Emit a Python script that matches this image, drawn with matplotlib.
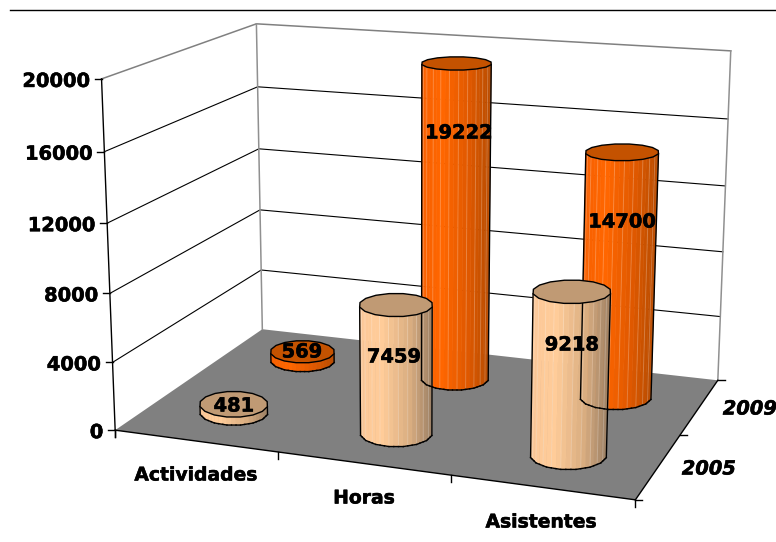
import numpy as np
import matplotlib
matplotlib.use('Agg')
import matplotlib.pyplot as plt
import matplotlib.patheffects as pe
from matplotlib.colors import to_rgb

categories = ['Actividades', 'Horas', 'Asistentes']
series_names = ['2005', '2009']
values_2005 = [481, 7459, 9218]
values_2009 = [569, 19222, 14700]
z_ticks = [0, 4000, 8000, 12000, 16000, 20000]

# where Excel left the value labels / axis labels (pixels)
pos_2005 = [(234, 406), (394, 357), (572, 345)]
pos_2009 = [(302, 352), (459, 133), (622, 222)]
cat_pos = [(196, 475), (364, 498), (541, 522)]
series_pos = [(709, 469), (750, 409)]

ZMAX = 20000.0

# Perspective camera fitted on the box corners
world = [(0, 0, 0), (0, 0, 1), (0, 2, 0), (0, 2, 1), (3, 2, 0), (3, 2, 1), (3, 0, 0),
         (0, 0, 0.8), (0, 2, 0.8), (3, 2, 0.8), (0, 0, 0.2)]
pixel = [(115, 430), (102, 78), (263, 329), (256, 24), (718, 380), (731, 51), (635, 500),
         (105, 152), (257, 87), (728, 119), (112, 363)]
A, b = [], []
for (x, y, z), (u, v) in zip(world, pixel):
    A.append([x, y, z, 1, 0, 0, 0, 0, -u * x, -u * y, -u * z])
    A.append([0, 0, 0, 0, x, y, z, 1, -v * x, -v * y, -v * z])
    b += [u, v]
cam = np.linalg.lstsq(np.array(A, float), np.array(b, float), rcond=None)[0]
cam = np.append(cam, 1.0).reshape(3, 4)

bold = dict(fontweight='bold', path_effects=[pe.withStroke(linewidth=0.4, foreground='black')])


def project(x, y, z):
    x, y, z = np.broadcast_arrays(x, y, np.asarray(z, float) / ZMAX)
    pts = np.stack([x, y, z, np.ones_like(x, dtype=float)])
    u, v, w = cam @ pts
    return u / w, v / w


def shade(t, stops):
    t = np.clip(t, 0, 1)
    xs = [s[0] for s in stops]
    rgb = np.array([to_rgb(s[1]) for s in stops])
    return tuple(np.interp(t, xs, rgb[:, i]) for i in range(3))


def cylinder(cx, cy, value, stops, top_color, sides=16, strips=3):
    # footprint chosen so that the caps sit level on the screen, like in Excel
    u0, v0 = project(cx, cy, 0)
    ux, vx = project(cx + 0.01, cy, 0)
    uy, vy = project(cx, cy + 0.01, 0)
    J = np.array([[ux - u0, uy - u0], [vx - v0, vy - v0]]) / 0.01
    half_w = 0.215 * np.hypot(J[0, 0], J[1, 0])
    half_h = 0.235 * abs(J[1, 1])
    Jinv = np.linalg.inv(J)
    ang = np.linspace(0, 2 * np.pi, sides, endpoint=False) + 0.2
    off = Jinv @ np.stack([half_w * np.cos(ang), half_h * np.sin(ang)])
    cor_x = cx + off[0]
    cor_y = cy + off[1]
    ring_x, ring_y = [], []
    for i in range(sides):
        j = (i + 1) % sides
        for s in range(strips):
            f = s / strips
            ring_x.append(cor_x[i] * (1 - f) + cor_x[j] * f)
            ring_y.append(cor_y[i] * (1 - f) + cor_y[j] * f)
    ring_x, ring_y = np.array(ring_x), np.array(ring_y)
    bx, by = project(ring_x, ring_y, 0)
    tx, ty = project(ring_x, ring_y, value)
    n = len(ring_x)
    xmin, xmax = bx.min(), bx.max()
    left, right = np.argmin(bx), np.argmax(bx)
    # the front of the cylinder is the part of the ring lying lower on the screen
    mid_v = (by[left] + by[right]) / 2
    for i in range(n):
        j = (i + 1) % n
        if (by[i] + by[j]) / 2 < mid_v:
            continue
        col = shade(((bx[i] + bx[j]) / 2 - xmin) / (xmax - xmin), stops)
        ax.fill([bx[i], bx[j], tx[j], tx[i]], [by[i], by[j], ty[j], ty[i]],
                facecolor=col, edgecolor=col, linewidth=0.4, zorder=3)
        if i % 2 == 0 and abs(ty[i] - by[i]) > 30:
            ax.plot([bx[i], tx[i]], [by[i], ty[i]], color='white', alpha=0.22, lw=0.7, zorder=3)
        ax.plot([bx[i], bx[j]], [by[i], by[j]], color='black', lw=1.0, zorder=4)
    for k in (left, right):
        ax.plot([bx[k], tx[k]], [by[k], ty[k]], color='black', lw=1.0, zorder=4)
    ax.fill(tx, ty, facecolor=top_color, edgecolor='black', linewidth=1.0, zorder=4)


fig = plt.figure(figsize=(7.76, 5.42), dpi=100)
ax = fig.add_axes([0, 0, 1, 1])
ax.set_xlim(0, 776)
ax.set_ylim(542, 0)
ax.axis('off')

# rule at the top of the page
ax.plot([10, 776], [10, 10], color='black', lw=1.0)

# floor
fx, fy = project([0, 3, 3, 0], [0, 0, 2, 2], 0)
ax.fill(fx, fy, facecolor='#808080', edgecolor='none', zorder=1)

# grid on the two walls
for val in z_ticks[1:-1]:
    px, py = project([0, 0, 3], [0, 2, 2], val)
    ax.plot(px, py, color='black', lw=0.8, zorder=1)
px, py = project([0, 0, 3], [0, 2, 2], 20000)
ax.plot(px, py, color='#808080', lw=1.1, zorder=1)
for x0 in (0, 3):
    px, py = project([x0, x0], [2, 2], [0, 20000])
    ax.plot(px, py, color='#909090', lw=1.1, zorder=1)

# axes
px, py = project([0, 0], [0, 0], [0, 20000])
ax.plot([px[0], px[0]], [py[0], py[0] + 7], color='black', lw=1.0, zorder=2)
ax.plot(px, py, color='black', lw=1.0, zorder=2)
px, py = project([0, 3, 3], [0, 0, 2], 0)
ax.plot(px, py, color='black', lw=1.0, zorder=2)
for val in z_ticks:
    px, py = project(0, 0, val)
    ax.plot([px - 7, px], [py, py], color='black', lw=1.0, zorder=2)
    ax.text(px - 12, py + 2.5, str(val), ha='right', va='center', fontsize=14, **bold)
for i in range(4):
    px, py = project(i, 0, 0)
    ax.plot([px, px], [py, py + 7], color='black', lw=1.0, zorder=2)
for i in range(3):
    px, py = project(3, i, 0)
    ax.plot([px, px + 7], [py, py], color='black', lw=1.0, zorder=2)

orange = [(0, '#F86000'), (0.3, '#FF6600'), (0.7, '#DE5800'), (1, '#B84C00')]
tan = [(0, '#FCC898'), (0.3, '#FFCC99'), (0.7, '#D8AC80'), (1, '#9C8064')]

# back row first, the front row covers it
for i in range(3):
    cylinder(i + 0.5, 1.5, values_2009[i], orange, '#C45200')
for i in range(3):
    cylinder(i + 0.5, 0.5, values_2005[i], tan, '#C09A74')

for vals, positions in ((values_2005, pos_2005), (values_2009, pos_2009)):
    for val, (px, py) in zip(vals, positions):
        ax.text(px, py, str(val), ha='center', va='center', fontsize=14, zorder=6, **bold)
for name, (px, py) in zip(categories, cat_pos):
    ax.text(px, py, name, ha='center', va='center', fontsize=13.5, **bold)
for name, (px, py) in zip(series_names, series_pos):
    ax.text(px, py, name, ha='center', va='center', fontsize=14, style='italic', **bold)

fig.savefig('out.png', dpi=100)
